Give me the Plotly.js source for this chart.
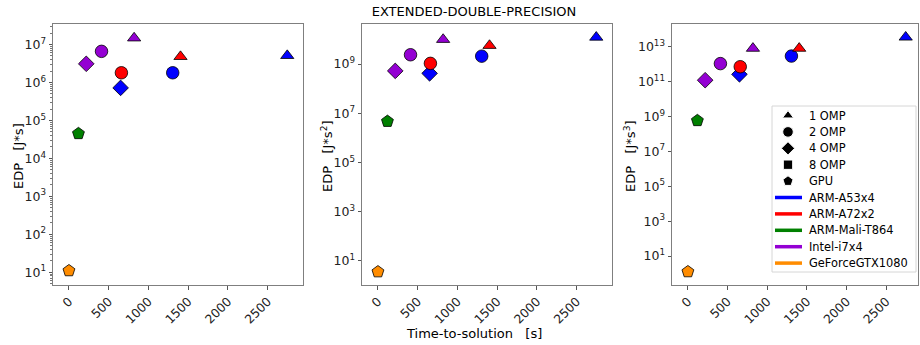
<!DOCTYPE html>
<html>
<head>
<meta charset="utf-8">
<script src="https://cdn.plot.ly/plotly-3.0.1.min.js"></script>
<style>
  html, body { margin: 0; padding: 0; background: #fff; }
  #chart { width: 920px; height: 345px; }
</style>
</head>
<body>
<div id="chart"></div>
<script>
// Measurements: one entry per (platform, OpenMP configuration)
const pointPlatform = ['ARM-A53x4', 'ARM-A53x4', 'ARM-A53x4',
                       'ARM-A72x2', 'ARM-A72x2',
                       'ARM-Mali-T864',
                       'Intel-i7x4', 'Intel-i7x4', 'Intel-i7x4',
                       'GeForceGTX1080'];
const pointConfig = ['1 OMP', '2 OMP', '4 OMP',
                     '1 OMP', '2 OMP',
                     'GPU',
                     '1 OMP', '2 OMP', '4 OMP',
                     'GPU'];
// time-to-solution [s]
const timeToSolution = [2745, 1305, 650, 1403, 660, 120, 820, 410, 218, 0.35];
// energy-delay products
const edpS1 = [5.1e6, 1.8e6, 7.2e5, 4.8e6, 1.8e6, 4.5e4, 1.48e7, 6.6e6, 3.1e6, 11];
const edpS2 = [1.23e10, 2.1e9, 4.2e8, 5.7e9, 1.07e9, 4.7e6, 1.0e10, 2.4e9, 5.3e8, 3.6];
const edpS3 = [3.5e13, 2.9e12, 2.6e11, 8.0e12, 7.1e11, 5.8e8, 8.0e12, 1.07e12, 1.2e11, 1.26];

// legend groups
const configNames = ['1 OMP', '2 OMP', '4 OMP', '8 OMP', 'GPU'];
const platformNames = ['ARM-A53x4', 'ARM-A72x2', 'ARM-Mali-T864', 'Intel-i7x4', 'GeForceGTX1080'];

// axis tick labels
const xTicks = [0, 500, 1000, 1500, 2000, 2500];
const yExp1 = [1, 2, 3, 4, 5, 6, 7];
const yExp2 = [1, 3, 5, 7, 9];
const yExp3 = [1, 3, 5, 7, 9, 11, 13];

const platformColor = {
  'ARM-A53x4': '#0000ff',
  'ARM-A72x2': '#ff0000',
  'ARM-Mali-T864': '#008000',
  'Intel-i7x4': '#9400d3',
  'GeForceGTX1080': '#ff8c00'
};
const configSymbol = {
  '1 OMP': 'triangle-up',
  '2 OMP': 'circle',
  '4 OMP': 'diamond',
  '8 OMP': 'square',
  'GPU': 'pentagon'
};
const configSize = {
  '1 OMP': 11.5,
  '2 OMP': 12.5,
  '4 OMP': 12,
  '8 OMP': 11,
  'GPU': 12.5
};

const FONT = 'DejaVu Sans, Liberation Sans, sans-serif';
const W = 920, H = 345;
const traces = [];
const panels = [
  {x: 'x', y: 'y', edp: edpS1},
  {x: 'x2', y: 'y2', edp: edpS2},
  {x: 'x3', y: 'y3', edp: edpS3}
];

panels.forEach(p => {
  platformNames.forEach(plat => {
    const idx = pointPlatform.map((v, i) => v === plat ? i : -1).filter(i => i >= 0);
    traces.push({
      type: 'scatter', mode: 'markers',
      xaxis: p.x, yaxis: p.y,
      x: idx.map(i => timeToSolution[i]),
      y: idx.map(i => p.edp[i]),
      showlegend: false, hoverinfo: 'skip',
      marker: {
        color: platformColor[plat], opacity: 1,
        symbol: idx.map(i => configSymbol[pointConfig[i]]),
        size: idx.map(i => configSize[pointConfig[i]]),
        line: {color: '#000', width: 0.8}
      }
    });
  });
});

// ---- legend box drawn in pixel space on an overlay axis pair ----
const legBox = {x0: 772, y0: 106, x1: 916, y1: 272};
const legRow0 = 115.5, legStep = 16.4;
const legSymX = 788, legLineX0 = 775, legLineX1 = 802, legTextX = 809;
const legendLabels = configNames.concat(platformNames);

traces.push({
  type: 'scatter', mode: 'markers', xaxis: 'x4', yaxis: 'y4',
  x: configNames.map(() => legSymX),
  y: configNames.map((c, i) => legRow0 + i * legStep),
  showlegend: false, hoverinfo: 'skip',
  marker: {color: '#000', opacity: 1,
           symbol: configNames.map(c => configSymbol[c]),
           size: configNames.map(c => configSize[c] * 0.85)}
});

const px = v => v / W;
const py = v => 1 - v / H;
const shapes = [{
  type: 'rect', xref: 'paper', yref: 'paper',
  x0: px(legBox.x0), x1: px(legBox.x1), y0: py(legBox.y0), y1: py(legBox.y1),
  line: {color: '#d6d6d6', width: 1}, fillcolor: '#ffffff', layer: 'below'
}];
platformNames.forEach((pn, j) => {
  const yy = py(legRow0 + (configNames.length + j) * legStep);
  shapes.push({
    type: 'line', xref: 'paper', yref: 'paper',
    x0: px(legLineX0), x1: px(legLineX1), y0: yy, y1: yy,
    line: {color: platformColor[pn], width: 3.5}, layer: 'above'
  });
});

function xAxis(d0, d1, range, anchor) {
  return {
    domain: [d0 / W, d1 / W], range: range, anchor: anchor,
    tickmode: 'array', tickvals: xTicks, ticktext: xTicks.map(String),
    tickangle: -45, ticks: 'outside', ticklen: 3.5, tickcolor: '#555',
    showgrid: false, zeroline: false,
    showline: true, mirror: true, linecolor: '#7f7f7f', linewidth: 1,
    tickfont: {family: FONT, size: 12.3, color: '#222'}
  };
}
function yAxis(range, exps, anchor, minorVals) {
  const ax = {
    type: 'log', domain: [1 - 285 / H, 1 - 24 / H], range: range, anchor: anchor,
    tickmode: 'array', tickvals: exps.map(e => Math.pow(10, e)),
    ticktext: exps.map(e => '10<sup>' + e + '</sup>'),
    ticks: 'outside', ticklen: 3.5, tickcolor: '#555',
    showgrid: false, zeroline: false,
    showline: true, mirror: true, linecolor: '#7f7f7f', linewidth: 1,
    tickfont: {family: FONT, size: 12.5, color: '#222'}
  };
  if (minorVals) {
    ax.minor = {tickmode: 'array', tickvals: minorVals, ticks: 'outside', ticklen: 2, tickcolor: '#777'};
  }
  return ax;
}

// minor ticks (2..9 x 10^k) for the first panel
const minor1 = [];
for (let k = 0; k <= 7; k++) for (let m = 2; m <= 9; m++) minor1.push(m * Math.pow(10, k));

const sp = '\u00a0\u00a0\u00a0';
const yTitles = ['EDP' + sp + '[J*s]', 'EDP' + sp + '[J*s<sup>2</sup>]', 'EDP' + sp + '[J*s<sup>3</sup>]'];
const yTitleX = [18, 327, 630];

const annotations = [{
  text: 'Time-to-solution' + sp + '[s]',
  xref: 'paper', yref: 'paper',
  x: px(474), y: py(333), xanchor: 'center', yanchor: 'middle',
  showarrow: false, font: {family: FONT, size: 13, color: '#000'}
}];
yTitles.forEach((t, i) => annotations.push({
  text: t, textangle: -90,
  xref: 'paper', yref: 'paper',
  x: px(yTitleX[i]), y: py(156), xanchor: 'center', yanchor: 'middle',
  showarrow: false, font: {family: FONT, size: 13, color: '#000'}
}));
legendLabels.forEach((t, i) => annotations.push({
  text: t, xref: 'paper', yref: 'paper',
  x: px(legTextX - 2), y: py(legRow0 + i * legStep), xanchor: 'left', yanchor: 'middle',
  showarrow: false, font: {family: FONT, size: 11.4, color: '#000'}
}));

const layout = {
  width: W, height: H,
  margin: {l: 0, r: 0, t: 0, b: 0},
  paper_bgcolor: '#fff', plot_bgcolor: 'rgba(0,0,0,0)',
  font: {family: FONT, color: '#000'},
  title: {
    text: 'EXTENDED-DOUBLE-PRECISION',
    font: {family: FONT, size: 13, color: '#000'},
    x: px(474), xanchor: 'center', xref: 'paper',
    y: py(11), yanchor: 'middle', yref: 'paper'
  },
  xaxis: xAxis(53, 303, [-200, 2943], 'y'),
  xaxis2: xAxis(362, 612, [-200, 2943], 'y2'),
  xaxis3: xAxis(672, 918, [-200, 2900], 'y3'),
  yaxis: yAxis([0.665, 7.54], yExp1, 'x', minor1),
  yaxis2: yAxis([0.02, 10.63], yExp2, 'x2'),
  yaxis3: yAxis([-0.66, 14.30], yExp3, 'x3'),
  // overlay axes in pixel units, used only for the legend symbols
  xaxis4: {domain: [0, 1], range: [0, W], visible: false, anchor: 'y4', fixedrange: true},
  yaxis4: {domain: [0, 1], range: [H, 0], visible: false, anchor: 'x4', fixedrange: true},
  shapes: shapes,
  annotations: annotations,
  showlegend: false
};

Plotly.newPlot('chart', traces, layout, {staticPlot: true, displayModeBar: false});
</script>
</body>
</html>
